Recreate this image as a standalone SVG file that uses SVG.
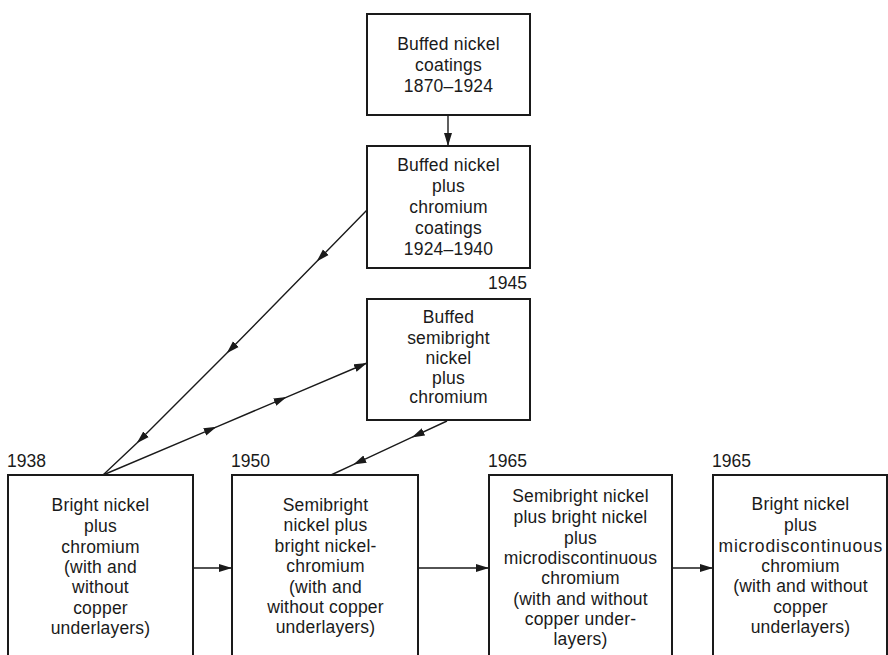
<svg xmlns="http://www.w3.org/2000/svg" width="888" height="655" viewBox="0 0 888 655">
<style>
.box{fill:#fff;stroke:#1a1a1a;stroke-width:2}
.t{font-family:"Liberation Sans",Arial,sans-serif;font-size:17.5px;fill:#1a1a1a;text-anchor:middle;letter-spacing:0.2px}
.y{font-family:"Liberation Sans",Arial,sans-serif;font-size:17.5px;fill:#1a1a1a}
.ln{fill:none;stroke:#1a1a1a;stroke-width:1.4}
</style>
<defs>
<marker id="ah" markerUnits="userSpaceOnUse" markerWidth="14" markerHeight="9" refX="13" refY="4.5" orient="auto">
<path d="M0,0.5 L13,4.5 L0,8.5 z" fill="#1a1a1a"/>
</marker>
</defs>
<rect width="888" height="655" fill="#fff"/>
<g id="connectors">
<path class="ln" d="M448,115 L448,146" marker-end="url(#ah)"/>
<path class="ln" d="M367,210 L316.7,261.5 L226.7,353.3 L136.7,443.3 L103,475" marker-mid="url(#ah)"/>
<path class="ln" d="M103,475 L216.7,426.8 L286.7,397.1 L367,363" marker-mid="url(#ah)" marker-end="url(#ah)"/>
<path class="ln" d="M447,421 L411.7,437.4 L353.3,464.6 L331,475" marker-mid="url(#ah)"/>
<path class="ln" d="M193,568 L232,568" marker-end="url(#ah)"/>
<path class="ln" d="M418,568 L489,568" marker-end="url(#ah)"/>
<path class="ln" d="M672,568 L713,568" marker-end="url(#ah)"/>
</g>
<g id="n1">
<rect class="box" x="367" y="14" width="163" height="101"/>
<text class="t" x="448.5" y="50">Buffed nickel</text>
<text class="t" x="448.5" y="71">coatings</text>
<text class="t" x="448.5" y="92">1870–1924</text>
</g>
<g id="n2">
<rect class="box" x="367" y="146" width="163" height="122"/>
<text class="t" x="448.5" y="171">Buffed nickel</text>
<text class="t" x="448.5" y="192">plus</text>
<text class="t" x="448.5" y="213">chromium</text>
<text class="t" x="448.5" y="234">coatings</text>
<text class="t" x="448.5" y="255">1924–1940</text>
</g>
<g id="n3">
<text class="y" x="527" y="289" text-anchor="end">1945</text>
<rect class="box" x="367" y="299" width="163" height="121"/>
<text class="t" x="448.5" y="323">Buffed</text>
<text class="t" x="448.5" y="344">semibright</text>
<text class="t" x="448.5" y="364">nickel</text>
<text class="t" x="448.5" y="384">plus</text>
<text class="t" x="448.5" y="403">chromium</text>
</g>
<g id="n4">
<text class="y" x="7" y="467">1938</text>
<rect class="box" x="8" y="475" width="185" height="190"/>
<text class="t" x="100.5" y="511">Bright nickel</text>
<text class="t" x="100.5" y="532">plus</text>
<text class="t" x="100.5" y="553">chromium</text>
<text class="t" x="100.5" y="573">(with and</text>
<text class="t" x="100.5" y="593">without</text>
<text class="t" x="100.5" y="614">copper</text>
<text class="t" x="100.5" y="634">underlayers)</text>
</g>
<g id="n5">
<text class="y" x="231" y="467">1950</text>
<rect class="box" x="232" y="475" width="186" height="190"/>
<text class="t" x="325.5" y="511">Semibright</text>
<text class="t" x="325.5" y="531">nickel plus</text>
<text class="t" x="325.5" y="552">bright nickel-</text>
<text class="t" x="325.5" y="572">chromium</text>
<text class="t" x="325.5" y="593">(with and</text>
<text class="t" x="325.5" y="613">without copper</text>
<text class="t" x="325.5" y="633">underlayers)</text>
</g>
<g id="n6">
<text class="y" x="488" y="467">1965</text>
<rect class="box" x="489" y="475" width="183" height="190"/>
<text class="t" x="580.5" y="502">Semibright nickel</text>
<text class="t" x="580.5" y="523">plus bright nickel</text>
<text class="t" x="580.5" y="544">plus</text>
<text class="t" x="580.5" y="564">microdiscontinuous</text>
<text class="t" x="580.5" y="584">chromium</text>
<text class="t" x="580.5" y="605">(with and without</text>
<text class="t" x="580.5" y="625">copper under-</text>
<text class="t" x="580.5" y="645">layers)</text>
</g>
<g id="n7">
<text class="y" x="712" y="467">1965</text>
<rect class="box" x="713" y="475" width="174" height="190"/>
<text class="t" x="800.5" y="510">Bright nickel</text>
<text class="t" x="800.5" y="531">plus</text>
<text class="t" x="800.5" y="552" textLength="164" lengthAdjust="spacing">microdiscontinuous</text>
<text class="t" x="800.5" y="572">chromium</text>
<text class="t" x="800.5" y="592">(with and without</text>
<text class="t" x="800.5" y="613">copper</text>
<text class="t" x="800.5" y="633">underlayers)</text>
</g>
</svg>
